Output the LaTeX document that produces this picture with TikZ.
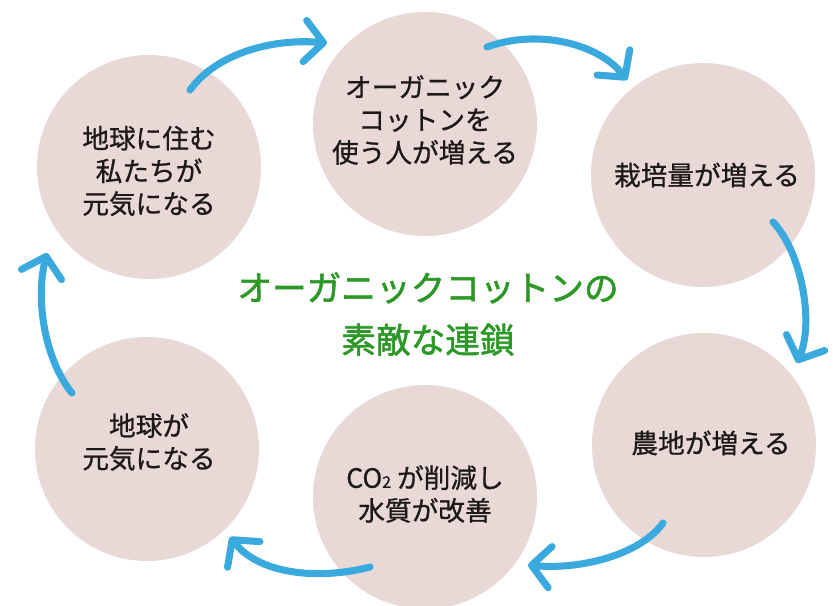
\documentclass[tikz,border=0pt]{standalone}
\usepackage{fontspec}
\setmainfont{Noto Sans CJK JP}
\newfontfamily\lblfont{Noto Sans CJK JP}[FakeBold=0.8]
\newfontfamily\ttlfont{Noto Sans CJK JP}[FakeBold=1.6]
\usetikzlibrary{arrows.meta}
\definecolor{circ}{RGB}{232,216,214}
\definecolor{arr}{RGB}{58,170,222}
\definecolor{grn}{RGB}{45,152,40}
\definecolor{txt}{RGB}{30,25,25}
\begin{document}
\begin{tikzpicture}[x=0.75pt,y=-0.75pt,
  bub/.style={circle,fill=circ,minimum size=168pt,inner sep=0pt},
  lbl/.style={align=center,font=\lblfont\fontsize{20}{24.5}\selectfont,text=txt,inner sep=0pt},
  ttl/.style={align=center,font=\ttlfont\fontsize{26}{39}\selectfont,text=grn,inner sep=0pt},
  arrow/.style={draw=arr,line width=5.3pt,line cap=round,-{Straight Barb[length=14pt,width=31pt,round]}}]
\useasboundingbox (0,0) rectangle (833,606);
% circles
\node[bub] (c1) at (149,167) {};
\node[bub] (c2) at (425,124) {};
\node[bub] (c3) at (703,175) {};
\node[bub] (c4) at (704,445) {};
\node[bub] (c5) at (425,497) {};
\node[bub] (c6) at (147,449) {};
% labels
\node[lbl] (t1) at (149,171) {地球に住む\\私たちが\\元気になる};
\node[lbl] (t2) at (425,120) {オーガニック\\コットンを\\使う人が増える};
\node[lbl] (t3) at (707,175) {栽培量が増える};
\node[lbl] (t4) at (711,443) {農地が増える};
\node[lbl] (t5) at (425,494) {CO{\fontsize{12}{12}\selectfont 2} が削減し\\水質が改善};
\node[lbl] (t6) at (149,442) {地球が\\元気になる};
\node[ttl] (title) at (428,314) {オーガニックコットンの\\素敵な連鎖};
% arrow end points
\coordinate (a1s) at (190,90);  \coordinate (a1e) at (327,43);
\coordinate (a2s) at (487,47);  \coordinate (a2e) at (627,80);
\coordinate (a3s) at (773,222); \coordinate (a3e) at (797,363);
\coordinate (a4s) at (663,523); \coordinate (a4e) at (528,565);
\coordinate (a5s) at (370,567); \coordinate (a5e) at (230,537);
\coordinate (a6s) at (72,393);  \coordinate (a6e) at (47,253);
% arrows
\draw[arrow] (a1s) .. controls (215,55) and (270,38) .. (a1e);
\draw[arrow] (a2s) .. controls (540,28) and (600,45) .. (a2e);
\draw[arrow] (a3s) .. controls (800,250) and (815,320) .. (a3e);
\draw[arrow] (a4s) .. controls (640,555) and (580,570) .. (a4e);
\draw[arrow] (a5s) .. controls (320,580) and (260,575) .. (a5e);
\draw[arrow] (a6s) .. controls (45,360) and (35,300) .. (a6e);
\end{tikzpicture}
\end{document}
